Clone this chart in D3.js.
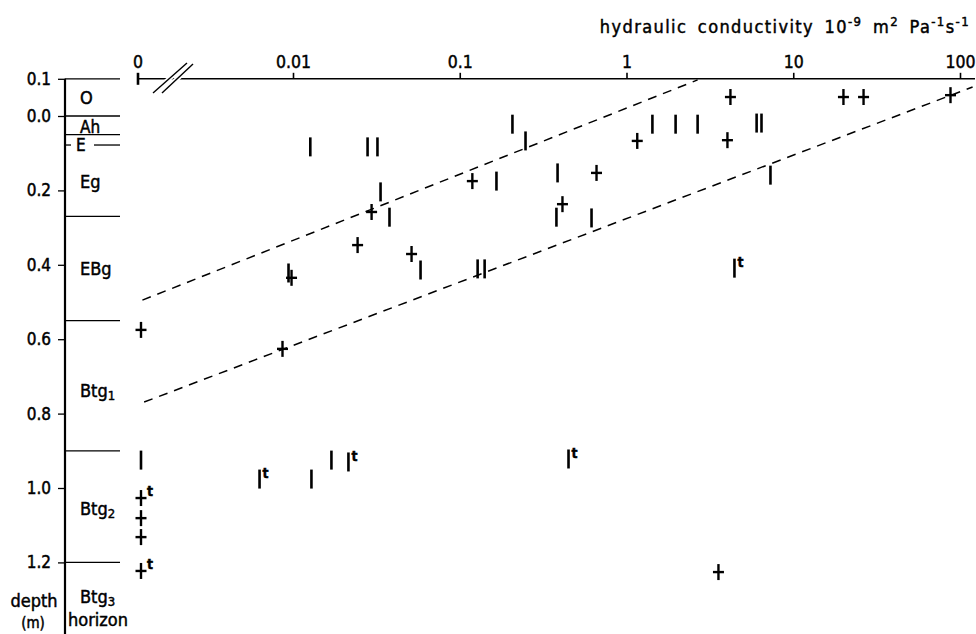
<!DOCTYPE html>
<html>
<head>
<meta charset="utf-8">
<script src="https://cdn.jsdelivr.net/npm/d3@7"></script>
<style>
  html, body { margin: 0; padding: 0; background: #fff; }
  svg { display: block; }
  text { font-family: "DejaVu Sans Condensed", "DejaVu Sans", sans-serif; font-stretch: condensed; fill: #000; stroke: #000; stroke-width: 0.45px; }
</style>
</head>
<body>
<svg id="chart" width="976" height="634"></svg>
<script>
// ---------------- data ----------------
// x tick values (hydraulic conductivity, 10^-9 m2 Pa-1 s-1); 0 is drawn left of an axis break
const xTickValues = [0.01, 0.1, 1, 10, 100];
const xTickLabels = ["0.01", "0.1", "1", "10", "100"];
// depth ticks (m); -0.1 is the top of the O horizon (labelled 0.1)
const yTickValues = [-0.1, 0.0, 0.2, 0.4, 0.6, 0.8, 1.0, 1.2];
const yTickLabels = ["0.1", "0.0", "0.2", "0.4", "0.6", "0.8", "1.0", "1.2"];

// horizon boundaries (depth, m) and names
const horizonBounds = [-0.1, 0.0, 0.05, 0.27, 0.55, 0.90, 1.20];
const horizonNames  = ["O", "Ah", "E", "Eg", "EBg", "Btg", "Btg", "Btg"];
const horizonSubs   = ["", "", "", "", "", "1", "2", "3"];
const horizonLabelDepth = [-0.051, 0.029, 0.078, 0.177, 0.41, 0.737, 1.054, 1.293];

// vertical-bar measurements
const barK     = [0.0127, 0.028, 0.0321, 0.207, 0.248, 1.43, 1.97, 2.67, 6.03, 6.45,
                  0.0335, 0.0379, 0.166, 0.386, 7.3, 0.380, 0.617,
                  0.0094, 0.0582, 0.128, 0.141, 4.44,
                  0, 0.0063, 0.0129, 0.0170, 0.0215, 0.449];
const barDepth = [0.083, 0.083, 0.083, 0.022, 0.067, 0.022, 0.022, 0.022, 0.019, 0.019,
                  0.204, 0.272, 0.175, 0.153, 0.159, 0.272, 0.274,
                  0.422, 0.414, 0.411, 0.411, 0.409,
                  0.925, 0.976, 0.976, 0.925, 0.930, 0.922];
const barT     = [0,0,0,0,0,0,0,0,0,0,
                  0,0,0,0,0,0,0,
                  0,0,0,0,1,
                  0,1,0,0,1,1];

// cross measurements
const crossK     = [4.2, 20.0, 26.4, 87.7, 1.16, 4.03, 0.119, 0.661, 0.0296, 0.413,
                    0.0244, 0.0514, 0.0098, 0, 0.00865, 0, 0, 0, 0, 3.56];
const crossDepth = [-0.051, -0.051, -0.051, -0.056, 0.067, 0.065, 0.175, 0.153, 0.258, 0.237,
                    0.347, 0.371, 0.435, 0.575, 0.626, 1.027, 1.081, 1.132, 1.223, 1.226];
const crossT     = [0,0,0,0,0,0,0,0,0,0,
                    0,0,0,0,0,1,0,0,1,0];

// dashed envelope lines
const upperLineK = [0.00125, 2.67];
const upperLineD = [0.495, -0.097];
const lowerLineK = [0.00128, 119];
const lowerLineD = [0.769, -0.078];

// ---------------- drawing ----------------
const svg = d3.select("#chart");
const xLog = d3.scaleLog().domain([0.01, 100]).range([293, 960]);
const xZero = 141;
const xPos = k => (k === 0 ? xZero : xLog(k));
const y = d3.scaleLinear().domain([-0.1, 1.2]).range([78.8, 562.4]);
const axisY = y(-0.1);
const yAxisX = 65;
const FONT = "DejaVu Sans Condensed, DejaVu Sans, sans-serif";

// top axis
const gx = svg.append("g").attr("transform", `translate(0,${axisY})`);
gx.call(d3.axisTop(xLog).tickValues(xTickValues)
  .tickFormat((d, i) => xTickLabels[i]).tickSize(6).tickPadding(5));
gx.select(".domain").remove();
gx.selectAll(".tick line").attr("stroke", "#000").attr("stroke-width", 1.6);
gx.selectAll(".tick text").attr("font-size", 17.5).attr("fill", "#000").attr("font-family", FONT);
svg.append("line").attr("x1", xZero - 3).attr("x2", 975)
  .attr("y1", axisY).attr("y2", axisY).attr("stroke", "#000").attr("stroke-width", 1.6);
// zero tick + label
svg.append("line").attr("x1", xZero - 3).attr("x2", xZero - 3)
  .attr("y1", axisY - 6).attr("y2", axisY + 6).attr("stroke", "#000").attr("stroke-width", 2.6);
svg.append("text").attr("x", xZero - 3).attr("y", axisY - 11).attr("text-anchor", "middle")
  .attr("font-size", 17.5).text("0");
// axis break
const breaks = [[153, 93, 187, 63], [162, 93, 193, 64]];
breaks.forEach(b => {
  svg.append("line").attr("x1", b[0]).attr("y1", b[1]).attr("x2", b[2]).attr("y2", b[3])
    .attr("stroke", "#fff").attr("stroke-width", 5);
});
breaks.forEach(b => {
  svg.append("line").attr("x1", b[0]).attr("y1", b[1]).attr("x2", b[2]).attr("y2", b[3])
    .attr("stroke", "#000").attr("stroke-width", 1.4);
});

// axis title
const title = svg.append("text").attr("x", 970).attr("y", 33).attr("text-anchor", "end")
  .attr("font-size", 18).attr("letter-spacing", 1.4).attr("word-spacing", 4);
title.append("tspan").text("hydraulic  conductivity  10");
title.append("tspan").attr("dy", -7).attr("font-size", 13).text("-9");
title.append("tspan").attr("dy", 7).text(" m");
title.append("tspan").attr("dy", -7).attr("font-size", 13).text("2");
title.append("tspan").attr("dy", 7).text(" Pa");
title.append("tspan").attr("dy", -7).attr("font-size", 13).text("-1");
title.append("tspan").attr("dy", 7).text("s");
title.append("tspan").attr("dy", -7).attr("font-size", 13).text("-1");

// left axis
const gy = svg.append("g").attr("transform", `translate(${yAxisX},0)`);
gy.call(d3.axisLeft(y).tickValues(yTickValues)
  .tickFormat((d, i) => yTickLabels[i]).tickSize(7).tickPadding(7));
gy.select(".domain").remove();
gy.selectAll(".tick line").attr("stroke", "#000").attr("stroke-width", 1.3);
gy.selectAll(".tick text").attr("font-size", 17).attr("fill", "#000").attr("font-family", FONT);
svg.append("line").attr("x1", yAxisX).attr("x2", yAxisX).attr("y1", axisY).attr("y2", 634)
  .attr("stroke", "#000").attr("stroke-width", 2.2);

// horizon boundaries
svg.append("g").selectAll("line").data(horizonBounds).join("line")
  .attr("x1", yAxisX).attr("x2", 120)
  .attr("y1", d => y(d)).attr("y2", d => y(d))
  .attr("stroke", "#000").attr("stroke-width", 1.3);
// E horizon line (thin horizon drawn as a line through its label)
svg.append("line").attr("x1", yAxisX).attr("x2", 71).attr("y1", y(0.078)).attr("y2", y(0.078))
  .attr("stroke", "#000").attr("stroke-width", 1.3);
svg.append("line").attr("x1", 94).attr("x2", 120).attr("y1", y(0.078)).attr("y2", y(0.078))
  .attr("stroke", "#000").attr("stroke-width", 1.3);

// horizon labels
const hl = svg.append("g").selectAll("text").data(horizonNames).join("text")
  .attr("x", (d, i) => i === 2 ? 76 : 80)
  .attr("y", (d, i) => y(horizonLabelDepth[i]))
  .attr("dy", "0.36em").attr("font-size", (d, i) => i === 1 || i === 2 ? 17 : 18);
hl.append("tspan").text(d => d);
hl.append("tspan").attr("dy", 3).attr("font-size", 13).text((d, i) => horizonSubs[i]);

// corner labels
svg.append("text").attr("x", 34).attr("y", 607).attr("text-anchor", "middle").attr("font-size", 18).text("depth");
svg.append("text").attr("x", 33).attr("y", 628).attr("text-anchor", "middle").attr("font-size", 15).text("(m)");
svg.append("text").attr("x", 68).attr("y", 626).attr("font-size", 18).text("horizon");

// dashed lines
const line = d3.line().x(d => xPos(d[0])).y(d => y(d[1]));
[[upperLineK, upperLineD], [lowerLineK, lowerLineD]].forEach(([ks, ds]) => {
  svg.append("path").datum(ks.map((k, i) => [k, ds[i]]))
    .attr("d", line).attr("fill", "none").attr("stroke", "#000")
    .attr("stroke-width", 1.5).attr("stroke-dasharray", "9,7");
});

// bars
const bars = svg.append("g").selectAll("g").data(barK.map((k, i) => ({k, d: barDepth[i], t: barT[i]})))
  .join("g").attr("transform", d => `translate(${xPos(d.k)},${y(d.d)})`);
bars.append("line").attr("x1", 0).attr("x2", 0).attr("y1", -9.5).attr("y2", 9.5)
  .attr("stroke", "#000").attr("stroke-width", 2.6);
bars.filter(d => d.t).append("text").attr("x", 3).attr("y", -1).attr("font-size", 14)
  .attr("font-weight", "bold").text("t");

// crosses
const crosses = svg.append("g").selectAll("g").data(crossK.map((k, i) => ({k, d: crossDepth[i], t: crossT[i]})))
  .join("g").attr("transform", d => `translate(${xPos(d.k)},${y(d.d)})`);
crosses.append("line").attr("x1", 0).attr("x2", 0).attr("y1", -8).attr("y2", 8)
  .attr("stroke", "#000").attr("stroke-width", 2.4);
crosses.append("line").attr("x1", -5.5).attr("x2", 5.5).attr("y1", 0).attr("y2", 0)
  .attr("stroke", "#000").attr("stroke-width", 2.4);
crosses.filter(d => d.t).append("text").attr("x", 6).attr("y", -2).attr("font-size", 14)
  .attr("font-weight", "bold").text("t");
</script>
</body>
</html>
